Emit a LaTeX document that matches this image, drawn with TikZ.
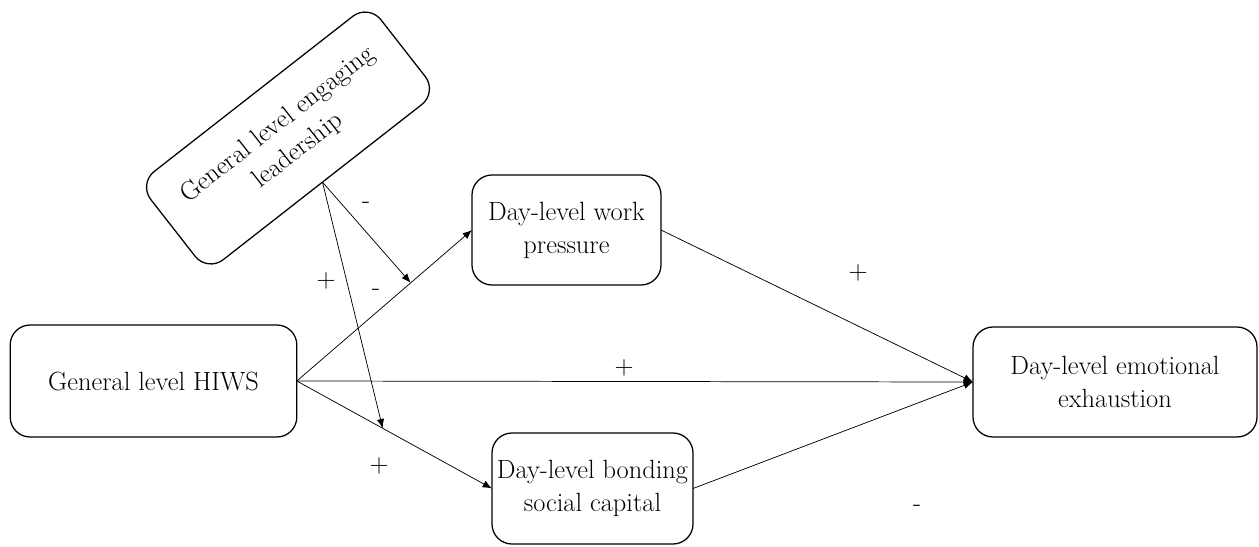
\documentclass[tikz,border=0pt]{standalone}
\usetikzlibrary{arrows.meta}
\begin{document}
\begin{tikzpicture}[x=0.75pt,y=-0.75pt,
  box/.style={draw, line width=0.95pt, rounded corners=15pt, align=center, outer sep=0pt, inner sep=2pt,
    font=\fontsize{19.8}{24.75}\selectfont},
  conn/.style={line width=0.55pt, -{Latex[length=7pt,width=5.5pt]}},
  sign/.style={font=\fontsize{19.8}{24}\selectfont, inner sep=0pt}]
\useasboundingbox (0,0) rectangle (1259,546);
\node[box, minimum width=215pt, minimum height=84pt] (hiws) at (153.5,381) {General level HIWS};
\node[box, minimum width=141.75pt, minimum height=82.5pt] (wp) at (566.5,230) {Day-level work\\pressure};
\node[box, minimum width=150.75pt, minimum height=83.25pt] (bond) at (592.5,488.5) {Day-level bonding\\social capital};
\node[box, minimum width=213pt, minimum height=82.5pt] (ee) at (1115,382) {Day-level emotional\\exhaustion};
\node[box, minimum width=219pt, minimum height=84pt, rotate=38] (lead) at (288,138) {General level engaging\\leadership};
\draw[conn] (hiws.east) -- coordinate[pos=0.65] (m1) (wp.west);
\draw[conn] (hiws.east) -- coordinate[pos=0.44] (m2) (bond.west);
\draw[conn] (hiws.east) -- (ee.west);
\draw[conn] (wp.east) -- (ee.west);
\draw[conn] (bond.east) -- (ee.west);
\draw[conn] (lead.south) -- (m1);
\draw[conn] (lead.south) -- (m2);
\node[sign] (s1) at (366,205) {-};
\node[sign] (s2) at (376,292) {-};
\node[sign] (s3) at (326,281) {+};
\node[sign] (s4) at (379,466) {+};
\node[sign] (s5) at (858,273) {+};
\node[sign] (s6) at (624,368) {+};
\node[sign] (s7) at (917,508) {-};
\end{tikzpicture}
\end{document}
